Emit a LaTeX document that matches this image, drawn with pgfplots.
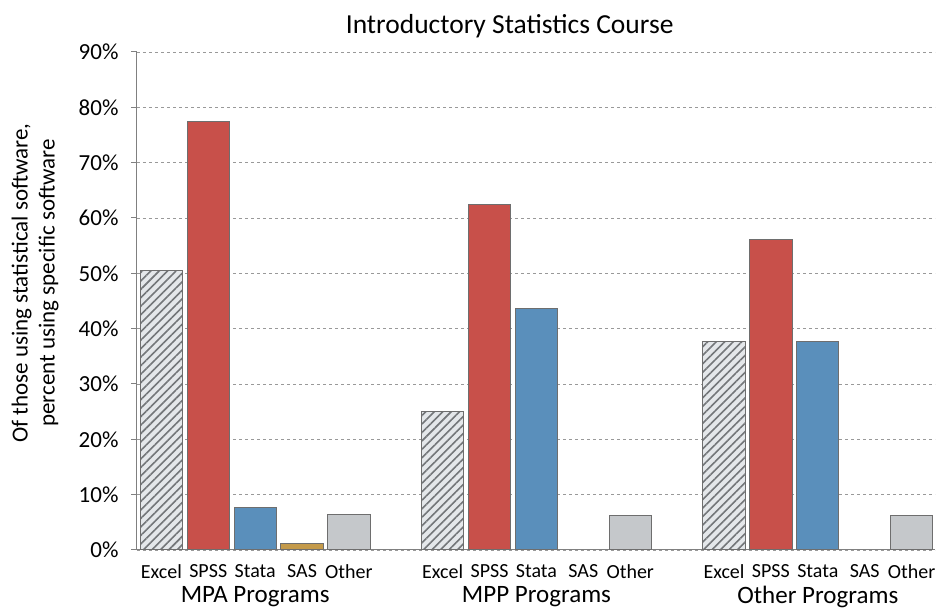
\documentclass[border=0pt]{standalone}
\usepackage{pgfplots}
\pgfplotsset{compat=1.18}
\usetikzlibrary{patterns.meta}
\usepackage{fontspec}
\setmainfont{Carlito}
\definecolor{cred}{HTML}{C8504A}
\definecolor{cblue}{HTML}{5A8FBB}
\definecolor{cgold}{HTML}{C49A4A}
\definecolor{cgray}{HTML}{C5C8CB}
\definecolor{chbg}{HTML}{E4E7EA}
\definecolor{chln}{HTML}{737679}
\definecolor{cedge}{HTML}{6E6E6E}
\begin{document}
\begin{tikzpicture}
\path (-137pt,-58pt) rectangle (800pt,550pt);
\begin{axis}[
  at={(0pt,0pt)}, anchor=south west,
  scale only axis, width=798pt, height=498pt,
  xmin=-0.52, xmax=16.5, ymin=0, ymax=90,
  clip=false,
  axis x line=bottom, axis y line=left,
  axis line style={-, draw=gray, line width=1pt},
  ytick={0,10,...,90},
  yticklabel={\pgfmathprintnumber{\tick}\%},
  /pgf/number format/assume math mode=true,
  ymajorgrids, grid style={dashed, gray!80, line width=0.8pt},
  tick align=outside,
  major tick length=6pt,
  ytick style={draw=gray, line width=1pt},
  y tick label style={font=\fontsize{23}{27}\selectfont, xshift=-9pt},
  xtick={0,1,2,3,4,6,7,8,9,10,12,13,14,15,16},
  xticklabels={Excel,SPSS,Stata,SAS,Other,Excel,SPSS,Stata,SAS,Other,Excel,SPSS,Stata,SAS,Other},
  x tick style={draw=none},
  x tick label style={font=\fontsize{20}{23}\selectfont, inner sep=0.5pt, yshift=-7.5pt},
  every axis plot/.append style={ybar, bar width=0.9, bar shift=0pt, draw=cedge, line width=1pt},
]
\addplot[fill=chbg, postaction={pattern={Lines[angle=45, distance=6pt, line width=1.6pt]}, pattern color=chln}]
  coordinates {(0,50.6) (6,25.1) (12,37.6)};
\addplot[fill=cred] coordinates {(1,77.4) (7,62.5) (13,56.2)};
\addplot[fill=cblue] coordinates {(2,7.6) (8,43.7) (14,37.6)};
\addplot[fill=cgold] coordinates {(3,1.1)};
\addplot[fill=cgray] coordinates {(4,6.5) (10,6.3) (16,6.3)};
\node[font=\fontsize{25}{29}\selectfont, inner sep=0.5pt] at (axis cs:2,0) [yshift=-47pt] {MPA Programs};
\node[font=\fontsize{25}{29}\selectfont, inner sep=0.5pt] at (axis cs:8,0) [yshift=-47pt] {MPP Programs};
\node[font=\fontsize{25}{29}\selectfont, inner sep=0.5pt] at (axis cs:14,0) [yshift=-47pt] {Other Programs};
\node[font=\fontsize{27.5}{31}\selectfont] at (rel axis cs:0.467,1) [yshift=26pt] {Introductory Statistics Course};
\end{axis}
\node[rotate=90, align=center, font=\fontsize{23}{27}\selectfont] at (-102pt,267pt) {Of those using statistical software,\\percent using specific software};
\end{tikzpicture}
\end{document}
